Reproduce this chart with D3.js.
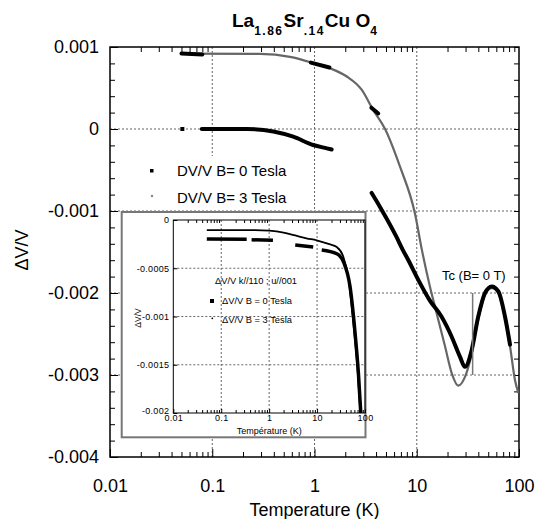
<!DOCTYPE html>
<meta charset="utf-8">
<style>
body { margin: 0; background: white; }
svg { display: block; font-family: "Liberation Sans", Arial, sans-serif; }
.grid line { stroke: #666; stroke-width: 1; stroke-dasharray: 2,2; }
.axis text { font-size: 18px; fill: black; }
.axis line { stroke: black; }
.inset .axis text { font-size: 9px; letter-spacing: 0.3px; }
</style>
<body>
<script src="https://cdn.jsdelivr.net/npm/d3@7"></script>
<script>
// main chart: temperature ticks and dV/V ticks
var tempTicks = [0.01, 0.1, 1, 10, 100];
var tempTickLabels = ["0.01", "0.1", "1", "10", "100"];
var dvTicks = [0.001, 0, -0.001, -0.002, -0.003, -0.004];
var dvTickLabels = ["0.001", "0", "-0.001", "-0.002", "-0.003", "-0.004"];
var gridTemps = [0.1, 1, 10];
var gridDv = [0, -0.001, -0.002, -0.003];

// B = 0 Tesla, main chart (several separate pieces)
var b0Segments = [
  [[0.05, 0.00092], [0.08, 0.00091]],
  [[0.92, 0.00081], [1.4, 0.00075]],
  [[3.6, 0.00026], [4.2, 0.00019]],
  [[0.079, 0], [0.217, 0], [0.396, -0.00003], [0.62, -0.000094], [0.97, -0.000195], [1.32, -0.000236], [1.47, -0.00025]],
  [[3.62, -0.00078], [4.37, -0.00095], [6.3, -0.00131], [7.34, -0.00148], [8.28, -0.0016], [10.35, -0.00184],
   [13.4, -0.00209], [17.5, -0.00229], [21.9, -0.00253], [26.5, -0.00278], [29.6, -0.0029], [34.4, -0.0027],
   [39.9, -0.00229], [46.5, -0.002], [54.1, -0.00192], [62.8, -0.00198], [73, -0.00229], [81.7, -0.00263]]
];
var b0Single = [[0.051, 0]];

// B = 3 Tesla, main chart
var b3 = [
  [0.05, 0.00092], [0.293, 0.000915], [0.576, 0.00088], [1.0, 0.0008], [1.42, 0.00074], [2.07, 0.00064],
  [2.89, 0.00048], [3.76, 0.00023], [4.9, 0], [6.86, -0.00046], [9.6, -0.00103], [11.25, -0.00148],
  [13.5, -0.00193], [15.1, -0.00217], [18.9, -0.00265], [22, -0.00298], [25.5, -0.00313], [29.7, -0.00302],
  [33.3, -0.00282], [39.9, -0.00232], [46.5, -0.00202], [54.1, -0.00194], [62.8, -0.002], [73, -0.00231],
  [81.7, -0.00265], [91.3, -0.00306], [98.5, -0.00322]
];

var legendLabels = ["DV/V B= 0 Tesla", "DV/V B= 3 Tesla"];
var tcMarker = {temp: 35.2, from: -0.002, to: -0.003, label: "Tc (B= 0 T)"};

// inset
var insetDvTicks = [0, -0.0005, -0.001, -0.0015, -0.002];
var insetDvTickLabels = ["0", "-0.0005", "-0.001", "-0.0015", "-0.002"];
var insetGridDv = [-0.0005, -0.001, -0.0015];
var insetB0Segments = [
  [[0.05, -0.000197], [0.34, -0.0002]],
  [[0.43, -0.000205], [1.2, -0.00021]],
  [[3.5, -0.00026], [8.3, -0.00028]],
  [[12.5, -0.00031], [25.8, -0.00035], [35.3, -0.00043], [48.7, -0.00069], [62, -0.00117], [72.9, -0.00159], [81.7, -0.002]]
];
var insetB3 = [
  [0.05, -0.000104], [0.5, -0.000104], [1.0, -0.00011], [2.0, -0.00013], [3.5, -0.00016], [6, -0.00019],
  [9.8, -0.00021], [18, -0.00025], [25.8, -0.00028], [35.3, -0.00038], [45, -0.0006], [58, -0.0011],
  [70, -0.00155], [80, -0.002]
];
var insetLegend = ["\u0394V/V k//110 ; u//001", "\u0394V/V B = 0 Tesla", "\u0394V/V B = 3 Tesla"];

var W = 547, H = 519;
var svg = d3.select("body").append("svg").attr("width", W).attr("height", H);

var x = d3.scaleLog().domain([0.01, 100]).range([110, 519]);
var y = d3.scaleLinear().domain([-0.004, 0.001]).range([457, 47]);

// grid
var grid = svg.append("g").attr("class", "grid");
grid.selectAll(".gv").data(gridTemps).enter().append("line")
  .attr("x1", d => x(d)).attr("x2", d => x(d))
  .attr("y1", y.range()[1]).attr("y2", y.range()[0]);
grid.selectAll(".gh").data(gridDv).enter().append("line")
  .attr("x1", x.range()[0]).attr("x2", x.range()[1])
  .attr("y1", d => y(d)).attr("y2", d => y(d));

// minor ticks
var minorT = x.ticks().filter(d => tempTicks.indexOf(d) < 0);
var minorDv = y.ticks(25);

svg.append("g").attr("class", "axis").attr("transform", "translate(0," + y.range()[0] + ")")
  .call(d3.axisBottom(x).tickValues(minorT).tickFormat("").tickSize(-5));
svg.append("g").attr("class", "axis").attr("transform", "translate(0," + y.range()[1] + ")")
  .call(d3.axisTop(x).tickValues(minorT).tickFormat("").tickSize(-5));
svg.append("g").attr("class", "axis").attr("transform", "translate(0," + y.range()[0] + ")")
  .call(d3.axisBottom(x).tickValues(tempTicks).tickFormat((d, i) => tempTickLabels[i]).tickSize(-8).tickPadding(22));
svg.append("g").attr("class", "axis").attr("transform", "translate(" + x.range()[0] + ",0)")
  .call(d3.axisLeft(y).tickValues(minorDv).tickFormat("").tickSize(-5));
svg.append("g").attr("class", "axis").attr("transform", "translate(" + x.range()[0] + ",0)")
  .call(d3.axisLeft(y).tickValues(dvTicks).tickFormat((d, i) => dvTickLabels[i]).tickSize(-8).tickPadding(11));
svg.append("g").attr("class", "axis").attr("transform", "translate(" + x.range()[1] + ",0)")
  .call(d3.axisRight(y).tickValues(minorDv).tickFormat("").tickSize(-5));
svg.selectAll(".axis .domain").remove();

svg.append("rect")
  .attr("x", x.range()[0]).attr("y", y.range()[1])
  .attr("width", x.range()[1] - x.range()[0]).attr("height", y.range()[0] - y.range()[1])
  .attr("fill", "none").attr("stroke", "black").attr("stroke-width", 1.5);

// data
var line = d3.line().x(d => x(d[0])).y(d => y(d[1])).curve(d3.curveMonotoneX);

svg.append("path").datum(b3).attr("d", line)
  .attr("fill", "none").attr("stroke", "#666").attr("stroke-width", 2.2);

svg.selectAll(".b0").data(b0Segments).enter().append("path")
  .attr("class", "b0").attr("d", line)
  .attr("fill", "none").attr("stroke", "black").attr("stroke-width", 4)
  .attr("stroke-linecap", "round");
svg.selectAll(".b0pt").data(b0Single).enter().append("rect")
  .attr("x", d => x(d[0]) - 2).attr("y", d => y(d[1]) - 2)
  .attr("width", 4).attr("height", 4).attr("fill", "black");

// Tc marker
svg.append("line")
  .attr("x1", x(tcMarker.temp)).attr("x2", x(tcMarker.temp))
  .attr("y1", y(tcMarker.from)).attr("y2", y(tcMarker.to))
  .attr("stroke", "#777").attr("stroke-width", 1.5);
svg.append("text").attr("x", 442).attr("y", 280)
  .attr("font-size", 13).text(tcMarker.label);

// legend
svg.append("rect").attr("x", 130).attr("y", 156).attr("width", 170).attr("height", 53).attr("fill", "white");
svg.append("rect").attr("x", 150).attr("y", 169).attr("width", 3.5).attr("height", 3.5).attr("fill", "black");
svg.append("circle").attr("cx", 152).attr("cy", 196).attr("r", 1.2).attr("fill", "#888");
svg.selectAll(".leg").data(legendLabels).enter().append("text")
  .attr("x", 177).attr("y", (d, i) => 176 + i * 26.5)
  .attr("font-size", 15).text(d => d);

// title
var title = svg.append("text").attr("x", 232).attr("y", 27)
  .attr("font-weight", "bold").attr("font-size", 19);
var titleParts = [["La", 0], ["1.86", 1], ["Sr", 0], [".14", 1], ["Cu O", 0], ["4", 1]];
titleParts.forEach(function(p, i) {
  var prev = i > 0 ? titleParts[i - 1][1] : 0;
  title.append("tspan")
    .attr("dy", (p[1] - prev) * 8)
    .attr("font-size", p[1] ? 12 : 19)
    .attr("letter-spacing", p[1] ? 1.5 : 0)
    .text(p[0]);
});

// axis titles
svg.append("text").attr("x", (x.range()[0] + x.range()[1]) / 2).attr("y", 516)
  .attr("text-anchor", "middle").attr("font-size", 18).text("Temperature (K)");
svg.append("text").attr("transform", "translate(28,250) rotate(-90)")
  .attr("text-anchor", "middle").attr("font-size", 18).text("\u0394V/V");

// ---- inset ----
var inset = svg.append("g").attr("class", "inset");
inset.append("rect").attr("x", 121.7).attr("y", 212).attr("width", 243.8).attr("height", 225.3)
  .attr("fill", "white").attr("stroke", "#777").attr("stroke-width", 2);

var ix = d3.scaleLog().domain([0.01, 100]).range([173.3, 365]);
var iy = d3.scaleLinear().domain([-0.002, 0]).range([413, 220]);

var igrid = inset.append("g").attr("class", "grid");
igrid.selectAll(".gv").data(gridTemps).enter().append("line")
  .attr("x1", d => ix(d)).attr("x2", d => ix(d))
  .attr("y1", iy.range()[1]).attr("y2", iy.range()[0]);
igrid.selectAll(".gh").data(insetGridDv).enter().append("line")
  .attr("x1", ix.range()[0]).attr("x2", ix.range()[1])
  .attr("y1", d => iy(d)).attr("y2", d => iy(d));

inset.append("g").attr("class", "axis").attr("transform", "translate(0," + iy.range()[0] + ")")
  .call(d3.axisBottom(ix).tickValues(minorT).tickFormat("").tickSize(-3));
inset.append("g").attr("class", "axis").attr("transform", "translate(0," + iy.range()[1] + ")")
  .call(d3.axisTop(ix).tickValues(minorT).tickFormat("").tickSize(-3));
inset.append("g").attr("class", "axis").attr("transform", "translate(0," + iy.range()[0] + ")")
  .call(d3.axisBottom(ix).tickValues(tempTicks).tickFormat((d, i) => tempTickLabels[i]).tickSize(-4).tickPadding(2));
inset.append("g").attr("class", "axis iy").attr("transform", "translate(" + ix.range()[0] + ",0)")
  .call(d3.axisLeft(iy).tickValues(insetDvTicks).tickFormat((d, i) => insetDvTickLabels[i]).tickSize(-4).tickPadding(4));
inset.selectAll(".axis .domain").remove();
// lift the lowest y label a little so it clears the first x label
inset.selectAll(".iy text").filter(d => d === -0.002).attr("dy", "0.05em");

inset.append("rect")
  .attr("x", ix.range()[0]).attr("y", iy.range()[1])
  .attr("width", ix.range()[1] - ix.range()[0]).attr("height", iy.range()[0] - iy.range()[1])
  .attr("fill", "none").attr("stroke", "black").attr("stroke-width", 1);

var iline = d3.line().x(d => ix(d[0])).y(d => iy(d[1])).curve(d3.curveMonotoneX);
inset.append("path").datum(insetB3).attr("d", iline)
  .attr("fill", "none").attr("stroke", "black").attr("stroke-width", 1.8);
inset.selectAll(".ib0").data(insetB0Segments).enter().append("path")
  .attr("class", "ib0").attr("d", iline)
  .attr("fill", "none").attr("stroke", "black").attr("stroke-width", 3.5);

inset.append("text").attr("x", ix(1)).attr("y", 434).attr("text-anchor", "middle")
  .attr("font-size", 9).text("Temp\u00e9rature  (K)");
inset.append("text").attr("transform", "translate(141,318) rotate(-90)")
  .attr("text-anchor", "middle").attr("font-size", 8.5).text("\u0394V/V");

inset.selectAll(".ileg").data(insetLegend).enter().append("text")
  .attr("x", (d, i) => i === 0 ? 215 : 222)
  .attr("y", (d, i) => [284, 304, 322.7][i])
  .attr("font-size", 9.3).text(d => d);
inset.append("rect").attr("x", 210).attr("y", 299).attr("width", 4).attr("height", 4).attr("fill", "black");
inset.append("circle").attr("cx", 212.3).attr("cy", 318.3).attr("r", 0.9).attr("fill", "black");
</script>
</body>
